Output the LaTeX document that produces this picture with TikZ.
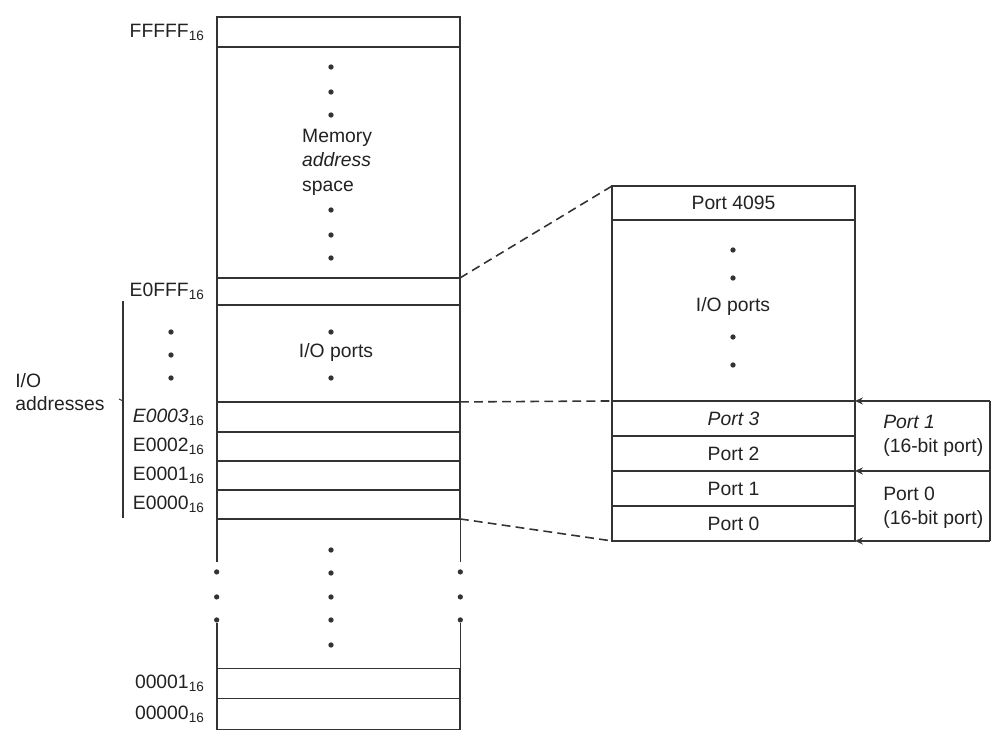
\documentclass[tikz,border=0pt]{standalone}
\usepackage{fontspec}
\setmainfont{Liberation Sans}
\usetikzlibrary{arrows.meta,positioning,calc}
\definecolor{inkgrey}{HTML}{333333}
\definecolor{inktext}{HTML}{222222}

\begin{document}
\begin{tikzpicture}[
  x=0.02cm, y=-0.02cm,
  font=\fontsize{11}{13.5}\selectfont, text=inktext,
  cell/.style={draw=inkgrey, line width=0.95pt, minimum width=4.86cm,
               inner sep=0pt, outer sep=0pt},
  wide/.style={minimum width=2.7cm, minimum height=1.4cm,
               inner sep=0pt, outer sep=0pt},
  addr/.style={inner sep=0pt, anchor=east},
  side/.style={inkgrey, line width=0.95pt},
  zoomline/.style={inkgrey, line width=0.9pt, dash pattern=on 5pt off 3pt},
  portarrow/.style={-{Stealth[length=4.5pt, width=4pt]}, inkgrey, line width=0.95pt},
]
\useasboundingbox (0,0) rectangle (996,733);

% ---------------- memory map (left) --------------------------------
\node[cell, minimum height=0.6cm] (fffff) at (338.5,32) {};
\node[cell, minimum height=4.62cm, below=0pt of fffff] (mem) {};
\node[cell, minimum height=0.54cm, below=0pt of mem] (e0fff) {};
\node[cell, minimum height=1.94cm, below=0pt of e0fff] (io) {};
\node[cell, minimum height=0.6cm, below=0pt of io] (e3) {};
\node[cell, minimum height=0.58cm, below=0pt of e3] (e2) {};
\node[cell, minimum height=0.58cm, below=0pt of e2] (e1) {};
\node[cell, minimum height=0.58cm, below=0pt of e1] (e0) {};
\node[minimum width=4.86cm, minimum height=2.98cm, inner sep=0pt,
      below=0pt of e0] (low) {};
\node[cell, minimum height=0.6cm, below=0pt of low] (z1) {};
\node[cell, minimum height=0.62cm, below=0pt of z1] (z0) {};

% broken sides of the lower block
\foreach \a in {north west, north east}
  \draw[side] (low.\a) -- ($(low.\a)+(0,43)$);
\foreach \a in {south west, south east}
  \draw[side] (low.\a) -- ($(low.\a)+(0,-46)$);
\foreach \y in {53,78,101} {
  \fill[inkgrey] ($(low.north west)+(0,\y)$) circle (1.5pt);
  \fill[inkgrey] ($(low.north east)+(0,\y)$) circle (1.5pt);
}
\foreach \y in {550,573,597,620,645}
  \fill[inkgrey] (331,\y) circle (1.5pt);

% text and dots inside
\node[align=left, anchor=west, font=\fontsize{11}{14}\selectfont] (memtxt)
  at (296,162) {Memory\\\textit{address}\\space};
\foreach \y in {67,92,115,210,235,258}
  \fill[inkgrey] (331,\y) circle (1.5pt);
\node (iotxt) at (336,352) {I/O ports};
\foreach \y in {332,378}
  \fill[inkgrey] (331,\y) circle (1.5pt);

% ---------------- addresses -----------------------------------------
\node[addr, left=0.24cm of fffff] (a-fffff) {FFFFF\textsubscript{16}};
\node[addr, left=0.24cm of e0fff] (a-e0fff) {E0FFF\textsubscript{16}};
\node[addr, left=0.24cm of e3] (a-e3) {\textit{E0003}\textsubscript{16}};
\node[addr, left=0.24cm of e2] (a-e2) {E0002\textsubscript{16}};
\node[addr, left=0.24cm of e1] (a-e1) {E0001\textsubscript{16}};
\node[addr, left=0.24cm of e0] (a-e0) {E0000\textsubscript{16}};
\node[addr, left=0.24cm of z1] (a-z1) {00001\textsubscript{16}};
\node[addr, left=0.24cm of z0] (a-z0) {00000\textsubscript{16}};
\foreach \y in {332,355,378}
  \fill[inkgrey] (171,\y) circle (1.5pt);

\draw[side] (123,301) -- (123,518);
\draw[side, line width=0.6pt] (123,401) -- (119,399);
\node[align=left, anchor=west, inner sep=0pt] (ioaddr) at (15,392)
  {I/O\\addresses};

% ---------------- port space (right) --------------------------------
\node[cell, minimum height=0.68cm] (p4095) at (733.5,203) {Port 4095};
\node[cell, minimum height=3.62cm, below=0pt of p4095] (rio) {};
\node[cell, minimum height=0.7cm, below=0pt of rio] (p3) {\textit{Port 3}};
\node[cell, minimum height=0.7cm, below=0pt of p3] (p2) {Port 2};
\node[cell, minimum height=0.7cm, below=0pt of p2] (p1) {Port 1};
\node[cell, minimum height=0.7cm, below=0pt of p1] (p0) {Port 0};

\node (riotxt) at (733,307) {I/O ports};
\foreach \y in {250,278,337,365}
  \fill[inkgrey] (733,\y) circle (1.5pt);

% 16-bit ports
\node[wide, anchor=north west] (pw1) at (p3.north east) {};
\node[wide, below=0pt of pw1] (pw0) {};
\node[align=left, anchor=west, inner sep=0pt] (pw1txt)
  at ($(pw1.west)+(28,0)$) {\textit{Port 1}\\(16-bit port)};
\node[align=left, anchor=west, inner sep=0pt] (pw0txt)
  at ($(pw0.west)+(28,2)$) {Port 0\\(16-bit port)};
\draw[portarrow] (pw1.north east) -- (pw1.north west);
\draw[portarrow] (pw0.north east) -- (pw0.north west);
\draw[portarrow] (pw0.south east) -- (pw0.south west);
\draw[side] (pw1.north east) -- (pw0.south east);

% ---------------- zoom lines ----------------------------------------
\draw[zoomline] (e0fff.north east) -- (p4095.north west);
\draw[zoomline] (e3.north east) -- (p3.north west);
\draw[zoomline] (e0.south east) -- (p0.south west);

\end{tikzpicture}
\end{document}
